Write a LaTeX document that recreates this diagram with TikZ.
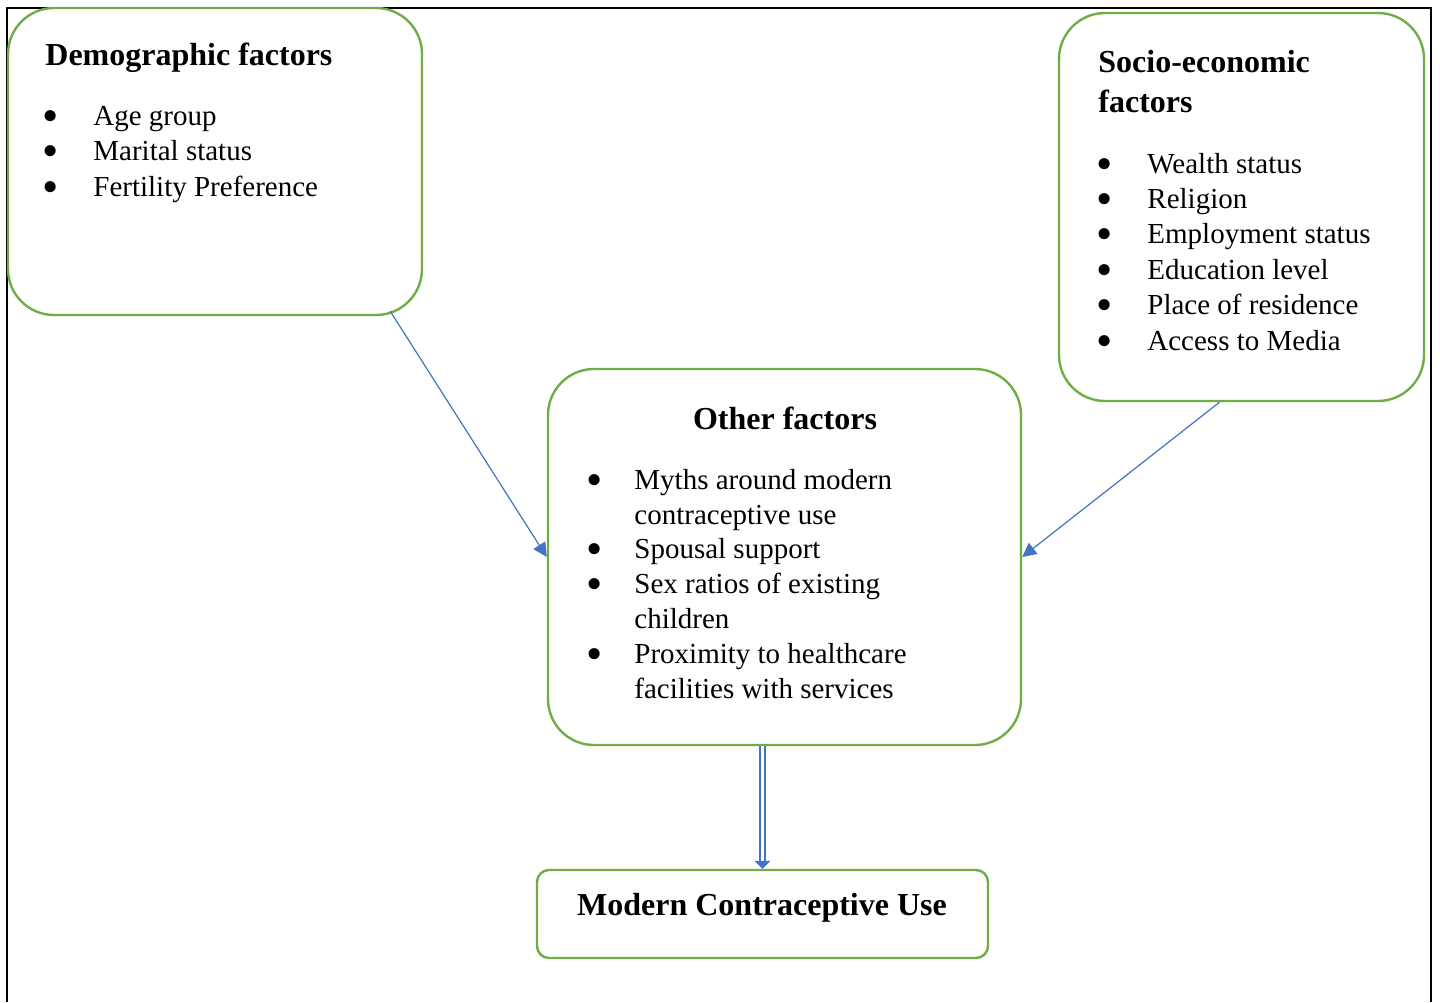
\documentclass[tikz,border=0pt]{standalone}
\usepackage{fontspec}
\usepackage{graphicx}
\setmainfont{Liberation Serif}
\usetikzlibrary{arrows.meta}
\definecolor{boxgreen}{HTML}{70AD47}
\definecolor{arrowblue}{HTML}{4472C4}
\newlength{\itmindent}
\setlength{\itmindent}{24pt}
\newcommand{\itm}[1]{\makebox[\itmindent][l]{\hspace*{-1.5pt}\smash{\raisebox{-3pt}{\scalebox{1.6}{\textbullet}}}}#1}
\newcommand{\cont}[1]{\hspace*{\itmindent}#1}

\tikzset{
    factorbox/.style={draw=boxgreen, line width=1.2pt, rounded corners=23pt, inner sep=0pt},
    outcomebox/.style={draw=boxgreen, line width=1.2pt, rounded corners=6pt, inner sep=0pt},
    boxtitle/.style={inner sep=0pt, font=\fontsize{16}{20}\selectfont\bfseries},
    itemlist/.style={inner sep=0pt, align=left, font=\fontsize{14.5}{17.7}\selectfont},
    factorarrow/.style={draw=arrowblue, line width=0.6pt, -{Triangle[length=7pt,width=7pt]}},
    resultarrow/.style={draw=arrowblue, line width=0.7pt, double=white, double distance=1.8pt, -{Triangle[length=4pt,width=8pt]}}
}

\begin{document}
\begin{tikzpicture}[x=0.5pt, y=-0.5pt]
    \useasboundingbox (0,0) rectangle (1440,1002);
    \draw[line width=1pt] (7,1002) -- (7,8) -- (1431,8) -- (1431,1002);

    % boxes
    \node[factorbox, minimum width=207pt, minimum height=153.5pt] (demog) at (215,161.5) {};
    \node[factorbox, minimum width=182.5pt, minimum height=194pt] (socio) at (1241.5,207) {};
    \node[factorbox, minimum width=236.5pt, minimum height=188pt] (other) at (784.5,557) {};
    \node[outcomebox, minimum width=225.5pt, minimum height=44pt] (modern) at (762.5,914) {};

    % demographic factors (base = last line)
    \node[boxtitle, anchor=base west] (demog-title) at (45,65) {Demographic factors};
    \node[itemlist, anchor=base west] (demog-list) at (45,196)
        {\itm{Age group}\\ \itm{Marital status}\\ \itm{Fertility Preference}};

    % socio-economic factors
    \node[boxtitle, anchor=base west, align=left] (socio-title) at (1098,112) {Socio-economic\\ factors};
    \node[itemlist, anchor=base west] (socio-list) at (1099,350)
        {\itm{Wealth status}\\ \itm{Religion}\\ \itm{Employment status}\\
         \itm{Education level}\\ \itm{Place of residence}\\ \itm{Access to Media}};

    % other factors
    \node[boxtitle, anchor=base] (other-title) at (785,429) {Other factors};
    \node[itemlist, anchor=base west, font=\fontsize{14.5}{17.4}\selectfont,
          execute at begin node={\setlength{\itmindent}{22.5pt}}] (other-list) at (589,698)
        {\itm{Myths around modern}\\ \cont{contraceptive use}\\ \itm{Spousal support}\\
         \itm{Sex ratios of existing}\\ \cont{children}\\ \itm{Proximity to healthcare}\\
         \cont{facilities with services}};

    % outcome
    \node[boxtitle, anchor=base] (modern-title) at (762,915) {Modern Contraceptive Use};

    % connectors
    \draw[factorarrow] ([xshift=-16.5pt,yshift=2.5pt]demog.south east) -- (other.west);
    \draw[factorarrow] ([xshift=-11pt]socio.south) -- (other.east);
    \draw[resultarrow] (modern.north |- other.south) -- (modern.north);
\end{tikzpicture}
\end{document}
